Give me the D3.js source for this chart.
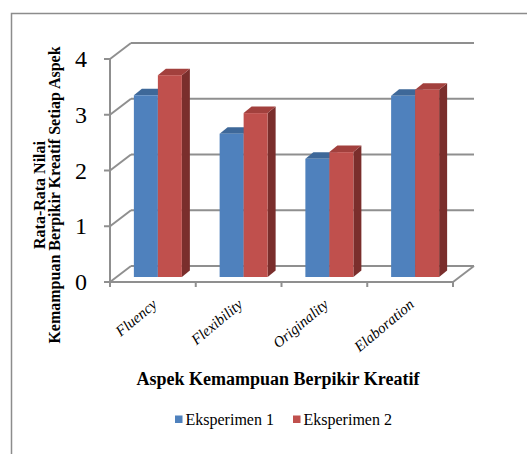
<!DOCTYPE html>
<html>
<head>
<meta charset="utf-8">
<script src="https://cdn.jsdelivr.net/npm/d3@7"></script>
<style>
  html, body { margin: 0; padding: 0; background: #fff; }
  text { font-family: "Liberation Serif", "Times New Roman", serif; fill: #000; }
</style>
</head>
<body>
<svg id="chart" width="527" height="454"></svg>
<script>
// data
var categories = ["Fluency", "Flexibility", "Originality", "Elaboration"];
var seriesNames = ["Eksperimen 1", "Eksperimen 2"];
var eksperimen1 = [3.26, 2.57, 2.12, 3.25];
var eksperimen2 = [3.62, 2.94, 2.24, 3.36];
var yTicks = [0, 1, 2, 3, 4];

var colors = ["#4F81BD", "#C0504D"];
var topColors = ["#3E6899", "#A2403D"];
var sideColors = ["#2F4F78", "#7A2E2C"];

var svg = d3.select("#chart");

// outer chart border
svg.append("path")
    .attr("d", "M11.5,460 L11.5,13.5 L530,13.5")
    .attr("fill", "none")
    .attr("stroke", "#8c8c8c")
    .attr("stroke-width", 1.5);

// front plane scales, back wall is offset by (depthX, depthY)
var x = d3.scaleBand().domain(categories).range([110, 453]);
var y = d3.scaleLinear().domain([0, 4]).range([282, 59]);
var depthX = 21, depthY = -16;

var grid = svg.append("g")
    .attr("fill", "none")
    .attr("stroke", "#8f8f8f")
    .attr("stroke-width", 2);

// back wall gridlines + left wall diagonals
yTicks.forEach(function(t) {
    grid.append("line")
        .attr("x1", x.range()[0] + depthX).attr("x2", x.range()[1] + depthX)
        .attr("y1", y(t) + depthY).attr("y2", y(t) + depthY);
    grid.append("line")
        .attr("x1", x.range()[0]).attr("x2", x.range()[0] + depthX)
        .attr("y1", y(t)).attr("y2", y(t) + depthY);
    // tick
    grid.append("line")
        .attr("x1", x.range()[0] - 6).attr("x2", x.range()[0])
        .attr("y1", y(t)).attr("y2", y(t));
});

// front vertical axis
grid.append("line")
    .attr("x1", x.range()[0]).attr("x2", x.range()[0])
    .attr("y1", y(0)).attr("y2", y(4));

// floor front edge and right edge
grid.append("line")
    .attr("x1", x.range()[0]).attr("x2", x.range()[1])
    .attr("y1", y(0)).attr("y2", y(0));
grid.append("line")
    .attr("x1", x.range()[1]).attr("x2", x.range()[1] + depthX)
    .attr("y1", y(0)).attr("y2", y(0) + depthY);

// category ticks
var bounds = categories.map(function(c) { return x(c); }).concat([x.range()[1]]);
bounds.forEach(function(b) {
    grid.append("line")
        .attr("x1", b).attr("x2", b)
        .attr("y1", y(0)).attr("y2", y(0) + 5);
});

// y tick labels
svg.append("g").selectAll("text")
    .data(yTicks)
    .enter().append("text")
    .attr("x", 87)
    .attr("y", function(d) { return y(d) + 8; })
    .attr("text-anchor", "end")
    .attr("font-size", 24)
    .text(function(d) { return d; });

// bars (pseudo 3D)
var barShiftX = 5, barShiftY = -5;
var barW = 24, capX = 8, capY = -6.5;
var seriesData = [eksperimen1, eksperimen2];

var bars = svg.append("g");
categories.forEach(function(c, i) {
    var cx = x(c) + x.bandwidth() / 2 + barShiftX;
    seriesData.forEach(function(vals, s) {
        var x0 = cx - barW + s * barW;
        var x1 = x0 + barW;
        var yTop = y(vals[i]) + barShiftY;
        var yBot = y(0) + barShiftY;
        // side face
        bars.append("path")
            .attr("d", "M" + x1 + "," + yTop + "L" + (x1 + capX) + "," + (yTop + capY) +
                "L" + (x1 + capX) + "," + (yBot + capY) + "L" + x1 + "," + yBot + "Z")
            .attr("fill", sideColors[s]);
        // top face
        bars.append("path")
            .attr("d", "M" + x0 + "," + yTop + "L" + (x0 + capX) + "," + (yTop + capY) +
                "L" + (x1 + capX) + "," + (yTop + capY) + "L" + x1 + "," + yTop + "Z")
            .attr("fill", topColors[s]);
        // front face
        bars.append("rect")
            .attr("x", x0)
            .attr("y", yTop)
            .attr("width", barW)
            .attr("height", yBot - yTop)
            .attr("fill", colors[s]);
    });
});

// category labels
svg.append("g").selectAll("text")
    .data(categories)
    .enter().append("text")
    .attr("transform", function(d) {
        return "translate(" + (x(d) + x.bandwidth() / 2 + 5) + ",306) rotate(-40)";
    })
    .attr("text-anchor", "end")
    .attr("font-size", 15)
    .attr("font-style", "italic")
    .text(function(d) { return d; });

// axis titles
svg.append("text")
    .attr("x", 278)
    .attr("y", 385)
    .attr("text-anchor", "middle")
    .attr("font-size", 18)
    .attr("font-weight", "bold")
    .text("Aspek Kemampuan Berpikir Kreatif");

var yTitle = svg.append("text")
    .attr("transform", "translate(0,195) rotate(-90)")
    .attr("text-anchor", "middle")
    .attr("font-size", 16)
    .attr("font-weight", "bold");
yTitle.append("tspan").attr("x", 0).attr("y", 45).text("Rata-Rata Nilai");
yTitle.append("tspan").attr("x", 0).attr("y", 60).text("Kemampuan Berpikir Kreatif Setiap Aspek");

// legend
var legendX = [175, 293];
var legend = svg.append("g").selectAll("g")
    .data(seriesNames)
    .enter().append("g")
    .attr("transform", function(d, i) { return "translate(" + legendX[i] + ",0)"; });
legend.append("rect")
    .attr("x", 0).attr("y", 415.5)
    .attr("width", 7.5).attr("height", 7.5)
    .attr("fill", function(d, i) { return colors[i]; });
legend.append("text")
    .attr("x", 10.5)
    .attr("y", 425)
    .attr("font-size", 16)
    .text(function(d) { return d; });
</script>
</body>
</html>
